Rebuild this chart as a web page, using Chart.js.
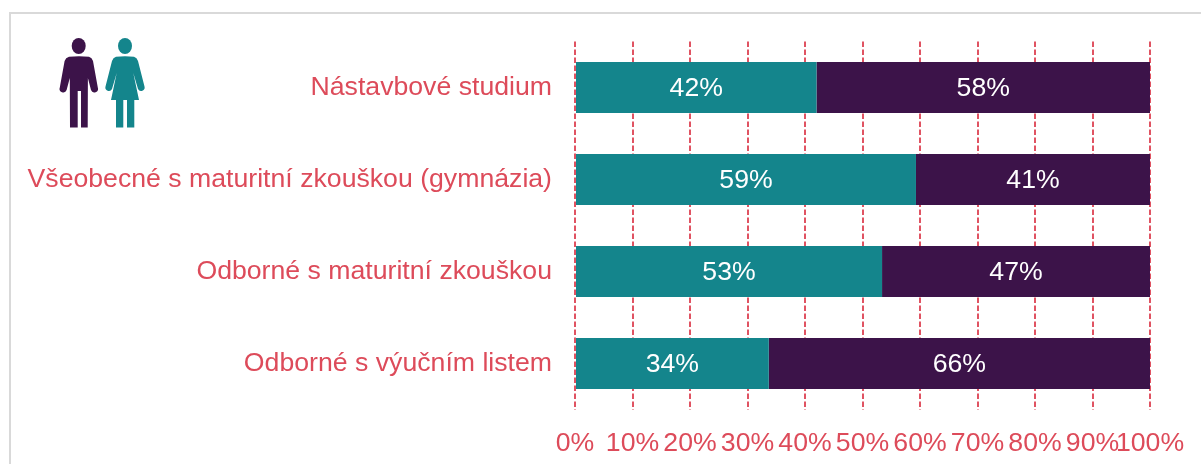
<!DOCTYPE html>
<html><head><meta charset="utf-8">
<script src="https://cdn.jsdelivr.net/npm/chart.js@4"></script>
<style>
html,body{margin:0;padding:0;background:#fff;overflow:hidden}
#wrap{position:relative;width:1201px;height:464px}
#frame{position:absolute;left:9px;top:12px;width:1192px;height:452px;border-left:2px solid #d9d9d9;border-top:2px solid #d9d9d9;box-sizing:border-box}
canvas{position:absolute;left:0;top:0}
svg{position:absolute;left:0;top:0}
</style></head><body>
<div id="wrap">
<div id="frame"></div>
<canvas id="c" width="1201" height="464" style="width:1201px;height:464px"></canvas>
<svg width="150" height="140" viewBox="0 0 150 140">
<g fill="#3c1349">
<ellipse cx="78.700" cy="46" rx="7" ry="8"/>
<path d="M69 56.800 Q79 55.800 89 56.800 Q92 57.800 93 61 L97.800 87.500 A3.500 3.500 0 0 1 91 90 L87.900 78 L87.700 127.500 L81 127.500 L81 91 L77.700 91 L77.700 127.500 L70 127.500 L69.800 78 L66.600 90 A3.500 3.500 0 0 1 59.800 87.500 L64.600 61 Q65.600 57.800 69 56.800 Z"/>
</g>
<g fill="#14858c">
<ellipse cx="125" cy="46" rx="7" ry="8"/>
<path d="M116 56.800 Q125 55.800 134 56.800 Q137 57.800 138 61 L144.500 86.500 A3.500 3.500 0 0 1 138 89 L133.300 73 L139 100 L134.300 100 L134.300 127.500 L127 127.500 L127 100 L123.300 100 L123.300 127.500 L116 127.500 L116 100 L111 100 L116.700 73 L112 89 A3.500 3.500 0 0 1 105.500 86.500 L112 61 Q113 57.800 116 56.800 Z"/>
</g>
</svg>
</div>
<script>
const categories = ["Nástavbové studium","Všeobecné s maturitní zkouškou (gymnázia)","Odborné s maturitní zkouškou","Odborné s výučním listem"];
const womenValues = [42, 59.3, 53.4, 33.7];
const menValues = [58, 40.7, 46.6, 66.3];
const xTicks = [0,10,20,30,40,50,60,70,80,90,100];
const TEAL = "#14858c", PURPLE = "#3c1349", RED = "#dd4b5a";
const FONT = "'Liberation Sans', Arial, sans-serif";
const FONT_SIZE = 26.67;

const barLabels = {
  id:"barLabels",
  afterDatasetsDraw(chart){
    const ctx = chart.ctx;
    ctx.save();
    ctx.font = FONT_SIZE + "px " + FONT;
    ctx.fillStyle = "#fff";
    ctx.textAlign = "center";
    ctx.textBaseline = "middle";
    chart.data.datasets.forEach((ds,i)=>{
      chart.getDatasetMeta(i).data.forEach((bar,j)=>{
        const c = bar.getCenterPoint();
        ctx.fillText(Math.round(ds.data[j]) + "%", c.x, c.y + 1);
      });
    });
    ctx.restore();
  }
};

new Chart(document.getElementById("c"),{
  type:"bar",
  data:{labels:categories,datasets:[
    {label:"Ženy",data:womenValues,backgroundColor:TEAL,barPercentage:0.555,categoryPercentage:1},
    {label:"Muži",data:menValues,backgroundColor:PURPLE,barPercentage:0.555,categoryPercentage:1}
  ]},
  options:{
    indexAxis:"y",responsive:false,animation:false,
    devicePixelRatio:1,
    layout:{padding:{top:41.5,right:51,left:0,bottom:0}},
    plugins:{legend:{display:false},tooltip:{enabled:false},title:{display:false}},
    scales:{
      x:{stacked:true,min:0,max:100,
        afterBuildTicks(s){s.ticks = xTicks.map(v=>({value:v}));},
        afterFit(s){s.height = 54.5;s.paddingRight = 0;s.paddingLeft = 0;},
        border:{display:false,dash:[5.5,2.5]},
        grid:{color:"#e05362",lineWidth:2,drawTicks:false,tickLength:0},
        ticks:{autoSkip:false,maxRotation:0,padding:18,color:RED,font:{family:FONT,size:FONT_SIZE},callback:v=>v+"%"}
      },
      y:{stacked:true,
        afterFit(s){s.width = 575;},
        border:{display:false},
        grid:{display:false,drawTicks:false},
        ticks:{padding:23,color:RED,font:{family:FONT,size:FONT_SIZE}}
      }
    }
  },
  plugins:[barLabels]
});
</script>
</body></html>
